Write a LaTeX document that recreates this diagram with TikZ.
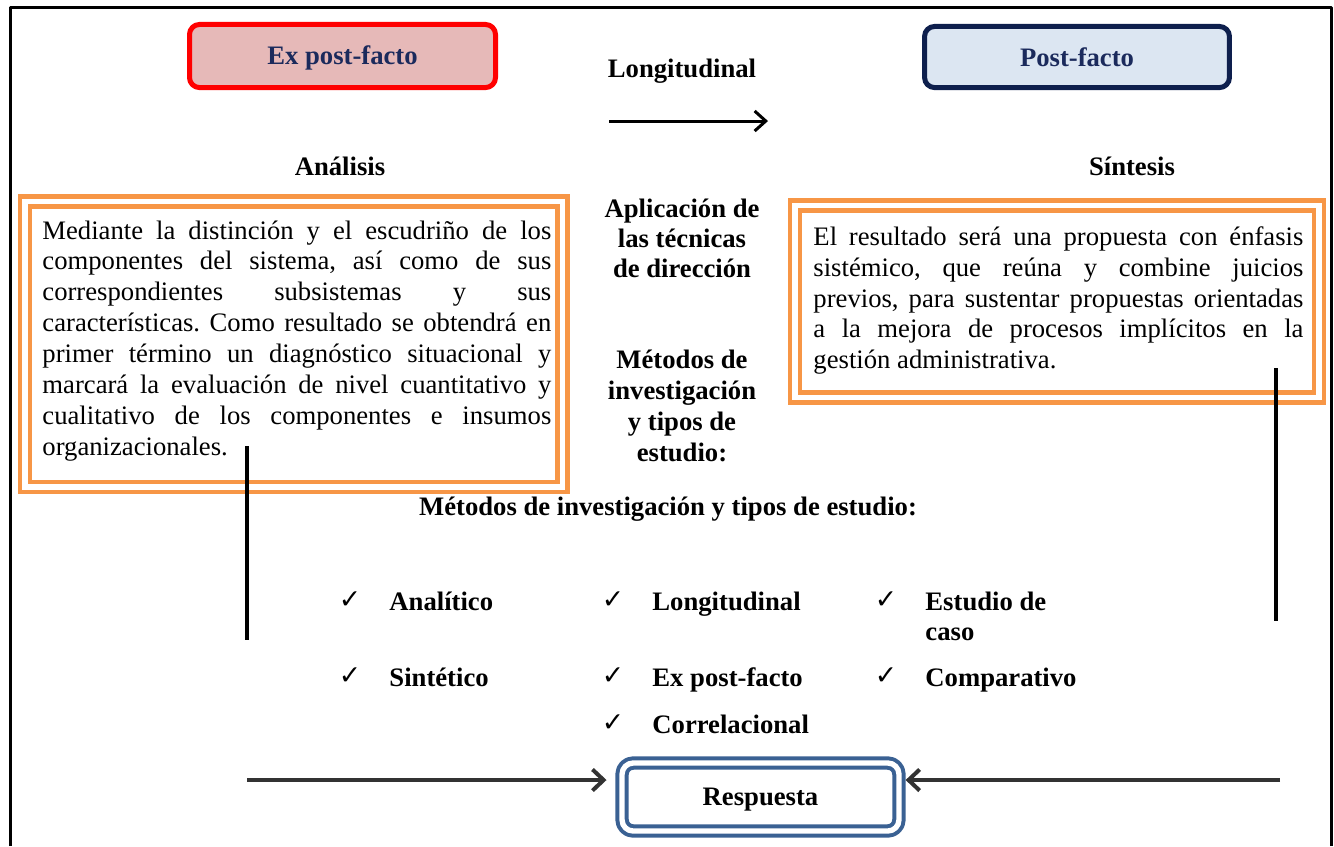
\documentclass[tikz,border=0pt]{standalone}
\usepackage{fontspec}
\setmainfont{Liberation Serif}
\newfontfamily\chkfont{DejaVu Sans}
\usetikzlibrary{arrows.meta}
\frenchspacing

\definecolor{exred}{HTML}{FF0000}
\definecolor{expink}{HTML}{E6B9B8}
\definecolor{navytext}{HTML}{1B2A5C}
\definecolor{navyline}{HTML}{0E1F4D}
\definecolor{pfblue}{HTML}{DCE6F2}
\definecolor{boxorange}{HTML}{F79646}
\definecolor{respblue}{HTML}{3A6193}
\definecolor{arrowgray}{HTML}{333333}

\tikzset{
	headtxt/.style={font=\bfseries\fontsize{12}{14}\selectfont, inner sep=0pt},
	midtxt/.style={font=\bfseries\fontsize{12}{13.3}\selectfont, align=center, inner sep=0pt},
	bodytxt/.style={font=\fontsize{12}{13.9}\selectfont, align=justify, inner sep=0pt,
		execute at begin node={\tolerance=10000\hyphenpenalty=10000\frenchspacing}},
	itemtxt/.style={font=\bfseries\fontsize{12}{13.5}\selectfont, inner sep=0pt},
	chk/.style={font=\chkfont\fontsize{12}{14}\selectfont, inner sep=0pt},
	exbox/.style={draw=exred, fill=expink, line width=2.25pt, rounded corners=4.5pt,
		minimum width=137.7pt, minimum height=28.4pt, text=navytext, text height=10.5pt, text depth=2.5pt,
		font=\bfseries\fontsize{12}{14}\selectfont},
	pfbox/.style={draw=navyline, fill=pfblue, line width=2.25pt, rounded corners=4.5pt,
		minimum width=137.2pt, minimum height=27.5pt, text=navytext, font=\bfseries\fontsize{12}{14}\selectfont},
	obox/.style={draw=boxorange, line width=2pt, double=white, double distance=2.6pt, line join=miter},
	respbox/.style={draw=respblue, line width=1.8pt, double=white, double distance=2.4pt, rounded corners=5pt,
		minimum width=124.6pt, minimum height=30.6pt, outer sep=0pt, text height=10.5pt, text depth=2.5pt,
		font=\bfseries\fontsize{12}{14}\selectfont},
	vline/.style={line width=1.8pt},
	resparrow/.style={draw=arrowgray, line width=1.8pt, -{Straight Barb[length=5pt,width=9.5pt]}},
}

\begin{document}
\begin{tikzpicture}[x=0.45pt,y=-0.45pt,line join=round]
	\useasboundingbox (0,0) rectangle (1334,846);
	
	\draw[line width=1.35pt] (10,846) -- (10,7) -- (1331.5,7) -- (1331.5,846);
	
	\node[exbox] (expost) at (342.5,56) {Ex post-facto};
	\node[pfbox] (postf) at (1077,57) {Post-facto};
	
	\node[headtxt] (longit) at (682,71) {Longitudinal};
	\coordinate (LA) at (609,121);
	\coordinate (LB) at (768,121);
	\draw[line width=1.35pt, -{Straight Barb[length=5pt,width=9pt]}] (LA) -- (LB);
	
	\node[headtxt] (analisis) at (340,166) {Análisis};
	\node[headtxt] (sintesis) at (1132,166) {Síntesis};
	
	\draw[obox] (25,201.5) rectangle (562.5,487);
	\draw[obox] (795,205.5) rectangle (1319,397.5);
	
	\node[bodytxt, text width=229pt, anchor=north west] (analisis-txt) at (42,220) {Mediante la distinción y el escudriño de los\linebreak
		componentes del sistema, así como de sus\linebreak
		correspondientes subsistemas y sus\linebreak
		características. Como resultado se obtendrá en\linebreak
		primer término un diagnóstico situacional y\linebreak
		marcará la evaluación de nivel cuantitativo y\linebreak
		cualitativo de los componentes e insumos\linebreak
		organizacionales.};
	\node[bodytxt, text width=220.5pt, anchor=north west] (sintesis-txt) at (813,226) {El resultado será una propuesta con énfasis\linebreak
		sistémico, que reúna y combine juicios\linebreak
		previos, para sustentar propuestas orientadas\linebreak
		a la mejora de procesos implícitos en la\linebreak
		gestión administrativa.};
	
	\node[midtxt, anchor=north] (aplic) at (682,199) {Aplicación de\\las técnicas\\de dirección};
	\node[midtxt, anchor=north, font=\bfseries\fontsize{12}{13.95}\selectfont] (metod) at (682,350) {Métodos de\\investigación\\y tipos de\\estudio:};
	\node[headtxt] (metod-tit) at (668,509) {Métodos de investigación y tipos de estudio:};
	
	\foreach \i/\x/\y/\t in {1/389/610/Analítico, 2/652/610/Longitudinal, 4/389/686/Sintético,
		5/652/686/Ex post-facto, 6/925/686/Comparativo, 7/652/733/Correlacional}{
		\node[chk, anchor=base] (chk-\i) at (\x-39,\y-2) {✓};
		\node[itemtxt, anchor=base west] (item-\i) at (\x,\y) {\t};
	}
	\node[chk, anchor=base] (chk-3) at (886,608) {✓};
	\node[itemtxt, anchor=base west] (item-3) at (925,610) {Estudio de};
	\node[itemtxt, anchor=base west] (item-3b) at (925,640) {caso};
	
	\coordinate (VA) at (247,446);
	\coordinate (VB) at (247,640);
	\coordinate (VC) at (1276,368);
	\coordinate (VD) at (1276,621);
	\draw[vline] (VA) -- (VB);
	\draw[vline] (VC) -- (VD);
	
	\node[respbox] (resp) at (760.5,797) {Respuesta};
	\coordinate (RA) at (247,780);
	\coordinate (RB) at (1280,780);
	\draw[resparrow, shorten >=7pt] (RA) -- (RA -| resp.west);
	\draw[resparrow, shorten >=3pt] (RB) -- (RB -| resp.east);
\end{tikzpicture}
\end{document}
